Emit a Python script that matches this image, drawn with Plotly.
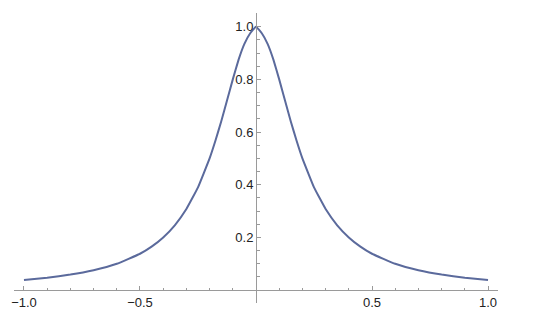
import plotly.graph_objects as go

# Sample points (right half; the curve is symmetric)
x_right = [0.0, 0.025, 0.05, 0.075, 0.1, 0.125, 0.15, 0.175, 0.2, 0.25, 0.3, 0.35,
           0.4, 0.45, 0.5, 0.6, 0.7, 0.8, 0.9, 1.0]
y_right = [1.0, 0.975, 0.935, 0.875, 0.8, 0.72, 0.64, 0.567, 0.5, 0.39, 0.308, 0.246,
           0.2, 0.165, 0.138, 0.1, 0.0755, 0.0588, 0.0471, 0.0385]

x_vals = [-v for v in x_right[:0:-1]] + x_right
y_vals = y_right[:0:-1] + y_right

x_tick_vals = [-1.0, -0.5, 0.5, 1.0]
x_tick_text = ["\u22121.0", "\u22120.5", "0.5", "1.0"]
y_tick_vals = [0.2, 0.4, 0.6, 0.8, 1.0]
y_tick_text = ["0.2", "0.4", "0.6", "0.8", "1.0"]

x_range = [-1.043, 1.043]
y_range = [-0.049, 1.052]

fig = go.Figure()
fig.add_trace(go.Scatter(x=x_vals, y=y_vals, mode="lines",
                         line=dict(color="#5B6A9C", width=2, shape="spline", smoothing=0.3),
                         hoverinfo="skip"))

axis_color = "#9a9a9a"
font = dict(family="Liberation Sans, Arial, sans-serif", size=13, color="#222222")

fig.update_layout(
    width=540, height=321,
    margin=dict(l=12, r=42, t=13, b=11),
    paper_bgcolor="white", plot_bgcolor="white",
    showlegend=False,
    font=font,
    xaxis=dict(
        range=x_range, showgrid=False, zeroline=False,
        showline=True, linecolor=axis_color, linewidth=1,
        anchor="free", position=(0 - y_range[0]) / (y_range[1] - y_range[0]),
        tickmode="array", tickvals=x_tick_vals, ticktext=x_tick_text,
        ticks="inside", ticklen=4, tickcolor=axis_color, tickwidth=1,
        minor=dict(dtick=0.1, tick0=0, ticks="inside", ticklen=2.5,
                   tickcolor=axis_color, showgrid=False),
        tickfont=font,
    ),
    yaxis=dict(
        range=y_range, showgrid=False, zeroline=False,
        showline=True, linecolor=axis_color, linewidth=1,
        anchor="free", position=(0 - x_range[0]) / (x_range[1] - x_range[0]),
        tickmode="array", tickvals=y_tick_vals, ticktext=y_tick_text,
        ticks="inside", ticklen=4, tickcolor=axis_color, tickwidth=1,
        minor=dict(dtick=0.05, tick0=0, ticks="inside", ticklen=2.5,
                   tickcolor=axis_color, showgrid=False),
        tickfont=font,
    ),
)

fig.write_html("out.html")
